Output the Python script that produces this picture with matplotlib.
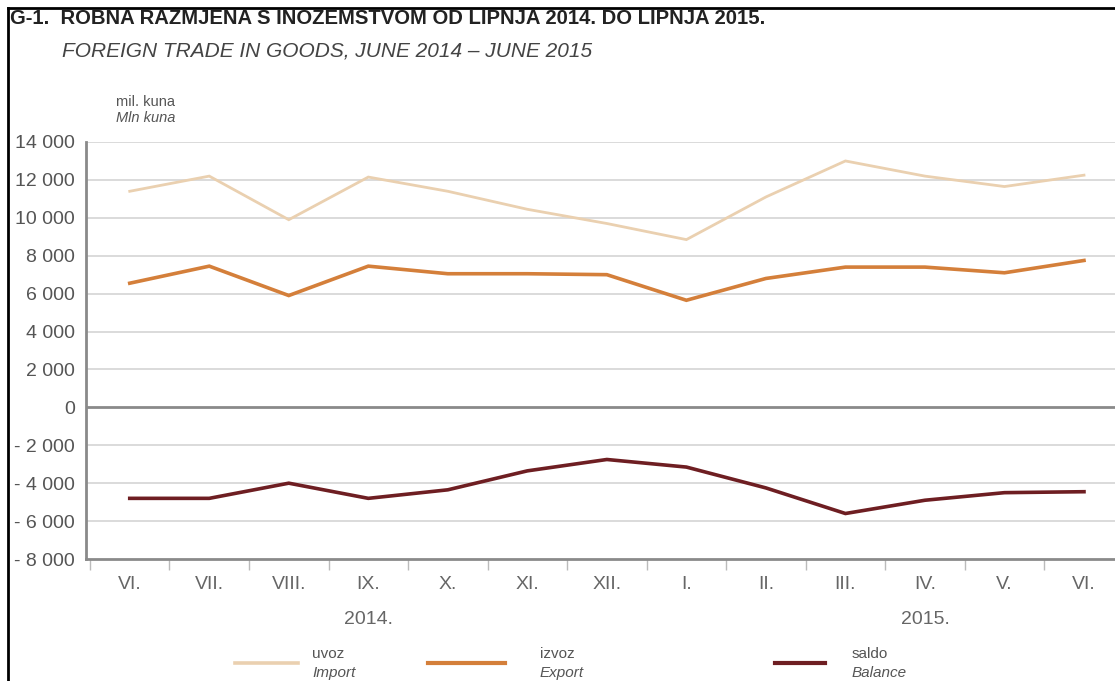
import matplotlib
matplotlib.use("Agg")
import matplotlib.pyplot as plt
from matplotlib.lines import Line2D
import matplotlib.font_manager as fm

months = ["VI.", "VII.", "VIII.", "IX.", "X.", "XI.", "XII.", "I.", "II.", "III.", "IV.", "V.", "VI."]
import_vals = [11400, 12200, 9900, 12150, 11400, 10450, 9700, 8850, 11100, 13000, 12200, 11650, 12250]
export_vals = [6550, 7450, 5900, 7450, 7050, 7050, 7000, 5650, 6800, 7400, 7400, 7100, 7750]
balance_vals = [-4800, -4800, -4000, -4800, -4350, -3350, -2750, -3150, -4250, -5600, -4900, -4500, -4450]
yticks = [14000, 12000, 10000, 8000, 6000, 4000, 2000, 0, -2000, -4000, -6000, -8000]
ytick_labels = ["14 000", "12 000", "10 000", "8 000", "6 000", "4 000", "2 000", "0",
                "- 2 000", "- 4 000", "- 6 000", "- 8 000"]
year_labels = ["2014.", "2015."]

names = {f.name for f in fm.fontManager.ttflist}
fam = "Liberation Sans Narrow" if "Liberation Sans Narrow" in names else "Liberation Sans"
plt.rcParams["font.family"] = [fam, "DejaVu Sans"]

c_imp = "#ead0b0"
c_exp = "#d47f3a"
c_bal = "#6e1e22"
gray = "#555555"

fig = plt.figure(figsize=(11.15, 6.81), dpi=100)
W, H = 1115, 681
ax = fig.add_axes([86 / W, 1 - 559 / H, (W - 86) / W, (559 - 142) / H])

x = list(range(len(months)))
ax.plot(x, import_vals, color=c_imp, lw=2.0, solid_joinstyle="miter")
ax.plot(x, export_vals, color=c_exp, lw=2.6, solid_joinstyle="miter")
ax.plot(x, balance_vals, color=c_bal, lw=2.6, solid_joinstyle="miter")

ax.set_xlim(-0.55, 12.39)
ax.set_ylim(-8000, 14000)
ax.set_yticks(yticks)
ax.set_yticklabels(ytick_labels)
for v in yticks:
    if v == 0:
        ax.axhline(0, color="#8a8a8a", lw=2.0, zorder=1)
    elif v != -8000:
        ax.axhline(v, color="#d4d4d4", lw=1.2, zorder=0)

ax.set_xticks(x)
ax.set_xticklabels(months)
ax.set_xticks([i + 0.5 for i in range(-1, 12)], minor=True)
ax.tick_params(axis="x", which="major", length=0, pad=12, labelsize=14, labelcolor="#666666")
ax.tick_params(axis="x", which="minor", length=8, color="#bbbbbb", width=1)
ax.tick_params(axis="y", length=0, pad=8, labelsize=14, labelcolor=gray)

for s in ["top", "right"]:
    ax.spines[s].set_visible(False)
ax.spines["left"].set_color("#8a8a8a")
ax.spines["left"].set_linewidth(2)
ax.spines["bottom"].set_color("#8a8a8a")
ax.spines["bottom"].set_linewidth(2)

# year labels
ax.text(3, -0.125, year_labels[0], transform=ax.get_xaxis_transform(), ha="center", va="top",
        fontsize=14, color="#666666")
ax.text(10, -0.125, year_labels[1], transform=ax.get_xaxis_transform(), ha="center", va="top",
        fontsize=14, color="#666666")

# titles
fig.text(10 / W, 1 - 19 / H, "G-1.  ROBNA RAZMJENA S INOZEMSTVOM OD LIPNJA 2014. DO LIPNJA 2015.",
         fontsize=14.6, fontweight="bold", color="#222222", va="center", ha="left")
fig.text(62 / W, 1 - 51 / H, "FOREIGN TRADE IN GOODS, JUNE 2014 \u2013 JUNE 2015",
         fontsize=15, style="italic", color="#444444", va="center", ha="left")
fig.text(116 / W, 1 - 102 / H, "mil. kuna", fontsize=10.5, color=gray, va="center", ha="left")
fig.text(116 / W, 1 - 118 / H, "Mln kuna", fontsize=10.5, style="italic", color=gray, va="center", ha="left")

# legend
legend_items = [
    (235, 298, 312, c_imp, 2.6, "uvoz", "Import"),
    (428, 505, 540, c_exp, 3.0, "izvoz", "Export"),
    (775, 825, 852, c_bal, 3.0, "saldo", "Balance"),
]
for x0, x1, tx, col, lw, t1, t2 in legend_items:
    fig.add_artist(Line2D([x0 / W, x1 / W], [1 - 663 / H, 1 - 663 / H], color=col, lw=lw))
    fig.text(tx / W, 1 - 654 / H, t1, fontsize=11, color=gray, va="center", ha="left")
    fig.text(tx / W, 1 - 673 / H, t2, fontsize=11, style="italic", color=gray, va="center", ha="left")

# frame
fig.add_artist(Line2D([8 / W, 8 / W], [0, 1 - 8 / H], color="black", lw=2))
fig.add_artist(Line2D([8 / W, 1], [1 - 8 / H, 1 - 8 / H], color="black", lw=2))

fig.savefig("out.png", dpi=100)
